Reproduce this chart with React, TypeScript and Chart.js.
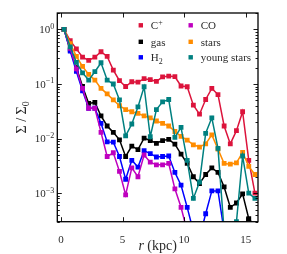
import React, { useEffect, useRef } from 'react';
import { Chart, registerables } from 'chart.js';

Chart.register(...registerables);

// ---- data ----
const radii = [0.25, 0.75, 1.25, 1.75, 2.25, 2.75, 3.25, 3.75, 4.25, 4.75, 5.25, 5.75, 6.25, 6.75, 7.25, 7.75,
  8.25, 8.75, 9.25, 9.75, 10.25, 10.75, 11.25, 11.75, 12.25, 12.75, 13.25, 13.75, 14.25, 14.75, 15.25, 15.75];

const cPlus = [1.0, 0.62, 0.44, 0.31, 0.27, 0.31, 0.39, 0.32, 0.18, 0.115, 0.09, 0.11, 0.108, 0.125, 0.12, 0.112,
  0.135, 0.14, 0.136, 0.092, 0.089, 0.041, 0.028, 0.052, 0.083, 0.064, 0.017, 0.008, 0.014, 0.031, 0.004, 0.001];
const gas = [1.0, 0.42, 0.2, 0.09, 0.044, 0.046, 0.026, 0.017, 0.013, 0.0095, 0.0047, 0.0073, 0.0063, 0.0102, 0.0092, 0.0082,
  0.0092, 0.0097, 0.0079, 0.0052, 0.0035, 0.002, 0.0015, 0.0022, 0.0029, 0.0024, 0.0013, 0.00055, 0.00066, 0.00097, 0.00034, 0.00025];
const h2 = [1.0, 0.4, 0.17, 0.075, 0.036, 0.036, 0.019, 0.0087, 0.0086, 0.0047, 0.0018, 0.004, 0.003, 0.006, 0.0053, 0.0046,
  0.0047, 0.0048, 0.0024, 0.0014, 0.00055, 0.0002, 0.00015, 0.00042, 0.0011, 0.0011, 0.0002, null, null, null, null, null];
const co = [1.0, 0.45, 0.19, 0.083, 0.036, 0.036, 0.013, 0.0047, 0.0055, 0.0025, 0.00093, 0.0029, 0.002, 0.005, 0.0037, 0.0033,
  0.0033, 0.0035, 0.0012, 0.00055, 0.0002, null, null, null, null, null, null, null, null, null, null, null];
const stars = [1.0, 0.55, 0.32, 0.21, 0.15, 0.118, 0.083, 0.066, 0.051, 0.04, 0.034, 0.031, 0.029, 0.026, 0.024, 0.021,
  0.019, 0.017, 0.0135, 0.011, 0.0094, 0.0077, 0.007, 0.008, 0.0117, 0.0064, 0.0035, 0.0034, 0.0036, 0.0056, 0.0031, 0.0022];
const youngStars = [1.0, 0.48, 0.25, 0.16, 0.118, 0.168, 0.245, 0.118, 0.1, 0.051, 0.0112, 0.0185, 0.038, 0.089, 0.0108, 0.034,
  0.047, 0.052, 0.0105, 0.016, 0.004, 0.0008, 0.0016, 0.0125, 0.024, 0.0066, 0.0002, 0.0002, 0.0003, 0.0048, 0.001, 0.0008];

const seriesLabels = ['C⁺', 'gas', 'H₂', 'CO', 'stars', 'young stars'];
const seriesValues = [cPlus, gas, h2, co, stars, youngStars];
const seriesColors = ['#dc143c', '#000000', '#0000ff', '#bf00bf', '#ff8c00', '#008080'];

const xTickValues = [0, 5, 10, 15];
const yTickValues = [1e-3, 1e-2, 1e-1, 1];
const yTickExponents = ['−3', '−2', '−1', '0'];

const SERIF = "'Liberation Serif', 'DejaVu Serif', serif";
const TEXT = '#2a2a2a';

type Part = { t: string; size: number; dy?: number; italic?: boolean };
const fontOf = (p: Part) => `${p.italic ? 'italic ' : ''}${p.size}px ${SERIF}`;

function drawRich(ctx: CanvasRenderingContext2D, parts: Part[], x: number, y: number, align: 'left' | 'right' | 'center') {
  let w = 0;
  for (const p of parts) { ctx.font = fontOf(p); w += ctx.measureText(p.t).width; }
  let cx = align === 'right' ? x - w : align === 'center' ? x - w / 2 : x;
  ctx.textAlign = 'left';
  ctx.textBaseline = 'alphabetic';
  for (const p of parts) {
    ctx.font = fontOf(p);
    ctx.fillText(p.t, cx, y + (p.dy || 0));
    cx += ctx.measureText(p.t).width;
  }
}

function labelParts(label: string, size: number): Part[] {
  if (label.endsWith('⁺')) return [{ t: label.slice(0, -1), size }, { t: '+', size: size * 0.72, dy: -4.5 }];
  if (label.endsWith('₂')) return [{ t: label.slice(0, -1), size }, { t: '2', size: size * 0.72, dy: 2.5 }];
  return [{ t: label, size }];
}

const decorPlugin = {
  id: 'decor',
  afterDraw(chart: any) {
    const { ctx, chartArea, scales } = chart;
    const { left, right, top, bottom } = chartArea;
    const xs = scales.x;
    const ys = scales.y;
    ctx.save();
    ctx.strokeStyle = '#000';
    ctx.lineWidth = 0.9;
    ctx.beginPath();
    // y ticks (inward, both sides)
    for (let e = -4; e <= 0; e++) {
      for (let m = 1; m <= 9; m++) {
        const v = m * Math.pow(10, e);
        if (v < ys.min || v > ys.max) continue;
        const py = Math.round(ys.getPixelForValue(v)) + 0.5;
        const len = m === 1 ? 4.5 : 2.5;
        ctx.moveTo(left, py); ctx.lineTo(left + len, py);
        ctx.moveTo(right, py); ctx.lineTo(right - len, py);
      }
    }
    // x ticks (inward, top and bottom)
    for (const v of xTickValues) {
      const px = Math.round(xs.getPixelForValue(v)) + 0.5;
      ctx.moveTo(px, bottom); ctx.lineTo(px, bottom - 4.5);
      ctx.moveTo(px, top); ctx.lineTo(px, top + 4.5);
    }
    ctx.stroke();
    // frame
    ctx.lineWidth = 1.3;
    ctx.strokeRect(left, top, right - left, bottom - top);

    ctx.fillStyle = TEXT;
    // y tick labels
    yTickValues.forEach((v, i) => {
      const py = ys.getPixelForValue(v);
      drawRich(ctx, [{ t: '10', size: 11 }, { t: yTickExponents[i], size: 8, dy: -4.3 }], left - 3, py + 3.7, 'right');
    });

    // legend (2 columns)
    const colX = [left + 83.5, left + 133.4];
    const rowY = [top + 12.3, top + 28.8, top + 44.3];
    const order = [[0, 3], [1, 4], [2, 5]];
    order.forEach((row, r) => {
      row.forEach((di, c) => {
        const mx = colX[c];
        const my = rowY[r];
        ctx.fillStyle = seriesColors[di];
        ctx.fillRect(mx - 2.2, my - 2.2, 4.4, 4.4);
        ctx.fillStyle = TEXT;
        drawRich(ctx, labelParts(seriesLabels[di], 11), mx + 10, my + 3.8, 'left');
      });
    });

    // axis titles
    const cx = (left + right) / 2;
    drawRich(ctx, [{ t: 'r', size: 14, italic: true }, { t: ' (kpc)', size: 14 }], cx, 249.5, 'center');
    const cy = (top + bottom) / 2;
    ctx.save();
    ctx.translate(21.5, cy);
    ctx.rotate(-Math.PI / 2);
    drawRich(ctx, [{ t: 'Σ / Σ', size: 14 }, { t: '0', size: 10, dy: 3 }], 0, 4.5, 'center');
    ctx.restore();
    ctx.restore();
  },
};

export default function App() {
  const ref = useRef<HTMLCanvasElement>(null);
  useEffect(() => {
    const canvas = ref.current!;
    const datasets = seriesLabels.map((label, i) => ({
      label,
      data: radii.map((r, k) => ({ x: r, y: seriesValues[i][k] })),
      borderColor: seriesColors[i],
      backgroundColor: seriesColors[i],
      pointBackgroundColor: seriesColors[i],
      pointBorderWidth: 0,
      pointRadius: 3.4,
      pointHoverRadius: 3.4,
      pointStyle: 'rect',
      borderWidth: 1.5,
      tension: 0,
      clip: 0,
      order: seriesLabels.length - i,
    }));
    const chart = new Chart(canvas, {
      type: 'line',
      data: { datasets } as any,
      options: {
        animation: false,
        responsive: false,
        devicePixelRatio: 1,
        layout: { padding: { top: 13, right: 29, bottom: 0, left: 0 } },
        plugins: { legend: { display: false }, tooltip: { enabled: false } },
        scales: {
          x: {
            type: 'linear',
            min: -0.3,
            max: 16,
            afterBuildTicks: (s: any) => { s.ticks = xTickValues.map((v) => ({ value: v })); },
            afterFit: (s: any) => { s.height = 32.3; },
            grid: { display: false },
            border: { display: false },
            ticks: { font: { family: SERIF, size: 11 }, color: TEXT, padding: 4, maxRotation: 0, autoSkip: false, callback: (v: any) => String(v) },
          },
          y: {
            type: 'logarithmic',
            min: 3e-4,
            max: 2.0,
            afterBuildTicks: (s: any) => { s.ticks = yTickValues.map((v) => ({ value: v })); },
            afterFit: (s: any) => { s.width = 57.3; },
            grid: { display: false },
            border: { display: false },
            ticks: { display: false },
          },
        },
      } as any,
      plugins: [decorPlugin],
    });
    return () => chart.destroy();
  }, []);
  return (
    <div style={{ position: 'fixed', left: 0, top: 0, width: 287, height: 254, background: '#fff' }}>
      <canvas ref={ref} width={287} height={254} />
    </div>
  );
}
